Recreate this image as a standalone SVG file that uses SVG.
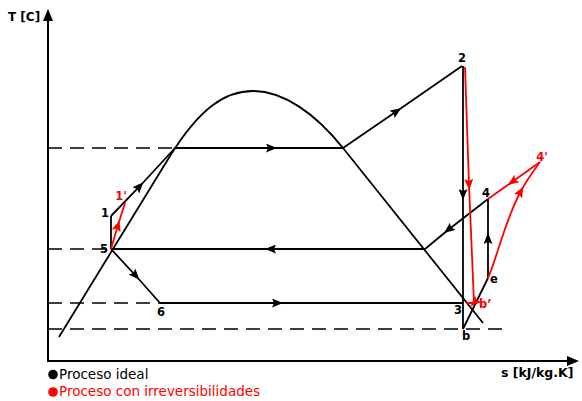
<svg xmlns="http://www.w3.org/2000/svg" width="582" height="401" viewBox="0 0 582 401">
<style>
.ln{fill:none;stroke:#000;stroke-width:1.8;stroke-linejoin:miter}
.rd{fill:none;stroke:#f00;stroke-width:1.8}
.ds{fill:none;stroke:#000;stroke-width:1.5;stroke-dasharray:14 8}
.ax{fill:none;stroke:#000;stroke-width:2}
.lb{font-family:"DejaVu Sans","Liberation Sans",sans-serif;font-weight:bold;font-size:11.5px;fill:#000;text-anchor:middle}
.lr{fill:#f00}
.lg{font-family:"DejaVu Sans","Liberation Sans",sans-serif;font-size:13.5px}
</style>
<defs>
<marker id="ab" viewBox="0 0 11 9" refX="6" refY="4.5" markerWidth="11" markerHeight="9" markerUnits="userSpaceOnUse" orient="auto"><path d="M0,0 L11,4.5 L0,9 L2,4.5 z" fill="#000"/></marker>
<marker id="ar" viewBox="0 0 11 9" refX="6" refY="4.5" markerWidth="11" markerHeight="9" markerUnits="userSpaceOnUse" orient="auto"><path d="M0,0 L11,4.5 L0,9 L2,4.5 z" fill="#f00"/></marker>
</defs>
<g id="axes">
<path class="ax" d="M48,361 L48,18"/>
<path d="M48,9 L53,21 L43,21 z" fill="#000"/>
<path class="ax" d="M47,361 L570,361"/>
<path d="M579,361 L567,356 L567,366 z" fill="#000"/>
<text class="lb" x="8" y="21" style="text-anchor:start;font-size:12px">T [C]</text>
<text class="lb" x="501" y="377" style="text-anchor:start;font-size:12.5px">s [kJ/kg.K]</text>
</g>
<g id="dashed">
<path class="ds" d="M48,148 L175,148"/>
<path class="ds" d="M48,249 L111,249"/>
<path class="ds" d="M48,303 L160,303"/>
<path class="ds" d="M48,329 L505,329"/>
</g>
<g id="dome">
<path class="ln" d="M59,337 L170,156 C200,108 225,91 253,91 C283,91 315,113 343,148 L483,323"/>
</g>
<g id="connectors">
<path class="ln" d="M111,249 L111,216"/>
<path class="ln" d="M111,216 L140,186 L175,148" marker-mid="url(#ab)"/>
<path class="ln" d="M175,148 L272,148 L343,148" marker-mid="url(#ab)"/>
<path class="ln" d="M343,148 L397,111 L462,66" marker-mid="url(#ab)"/>
<path class="ln" d="M463,66 L463,195 L463,329" marker-mid="url(#ab)"/>
<path class="ln" d="M463,329 L488,278"/>
<path class="ln" d="M488,278 L488,238 L488,199" marker-mid="url(#ab)"/>
<path class="ln" d="M488,199 L448,230 L425,249" marker-mid="url(#ab)"/>
<path class="ln" d="M425,249 L270,249 L111,249" marker-mid="url(#ab)"/>
<path class="ln" d="M111,249 L136,276 L160,303" marker-mid="url(#ab)"/>
<path class="ln" d="M160,303 L278,303 L463,303" marker-mid="url(#ab)"/>
<path class="rd" d="M111,249 L118,225 L125,203" marker-mid="url(#ar)"/>
<path class="rd" d="M465,67 L469,185 L474,303 L466,303" marker-mid="url(#ar)"/>
<path class="rd" d="M488,278 C497,258 505,220 521,191 C528,178 534,170 540,162" marker-mid="url(#ar)"/>
<path class="rd" d="M540,162 L512,182 L488,199" marker-mid="url(#ar)"/>
</g>
<g id="n1"><text class="lb" x="105" y="217">1</text></g>
<g id="n1p"><text class="lb lr" x="121" y="200">1'</text></g>
<g id="n5"><text class="lb" x="104" y="253">5</text></g>
<g id="n6"><text class="lb" x="161" y="316">6</text></g>
<g id="n2"><text class="lb" x="462" y="62">2</text></g>
<g id="n4p"><text class="lb lr" x="542" y="161">4'</text></g>
<g id="n4"><text class="lb" x="486" y="197">4</text></g>
<g id="ne"><text class="lb" x="494" y="283">e</text></g>
<g id="n3"><text class="lb" x="458" y="314">3</text></g>
<g id="nbp"><text class="lb lr" x="479" y="308" style="text-anchor:start">b’</text></g>
<g id="nb"><text class="lb" x="466" y="340">b</text></g>
<g id="legend">
<circle cx="53" cy="374.5" r="4.8" fill="#000"/>
<text class="lg" x="59" y="379" fill="#000">Proceso ideal</text>
<circle cx="53" cy="392" r="4.8" fill="#f00"/>
<text class="lg" x="59" y="396" fill="#f00">Proceso con irreversibilidades</text>
</g>
</svg>
